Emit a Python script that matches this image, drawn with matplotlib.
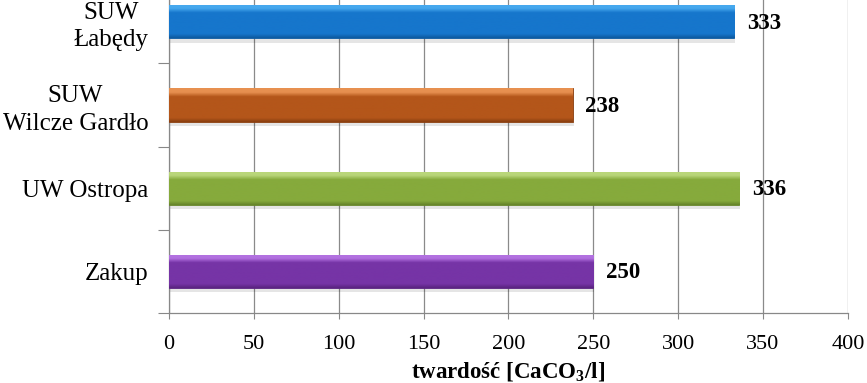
import numpy as np
import matplotlib
matplotlib.use('Agg')
import matplotlib.pyplot as plt
from matplotlib.colors import LinearSegmentedColormap

plt.rcParams['font.family'] = ['Liberation Serif', 'DejaVu Serif']
plt.rcParams['mathtext.fontset'] = 'custom'
plt.rcParams['mathtext.bf'] = 'Liberation Serif:bold'
plt.rcParams['mathtext.rm'] = 'Liberation Serif'
plt.rcParams['mathtext.default'] = 'bf'

categories = ['Zakup', 'UW Ostropa', 'SUW\nWilcze Gardło', 'SUW\nŁabędy']
values = [250, 336, 238, 333]
colors = ['#7634a6', '#86aa3c', '#b4561a', '#1676cc']
light = ['#b271e0', '#b9d67a', '#e79050', '#46a8ee']
dark = ['#5a2380', '#66852a', '#8a3f10', '#0d5aa0']

fig = plt.figure(figsize=(8.67, 3.83), dpi=100)
ax = fig.add_axes([0.1949, 0.1828, 0.7831, 0.869])

y = np.arange(len(categories))
h = 0.4
bars = ax.barh(y, values, height=h, color=colors, zorder=3)

# soft shadow under each bar
for yi, v in zip(y, values):
    ax.barh(yi - 0.05, v, height=h, left=0.5, color='#000000', alpha=0.10,
            zorder=2)

# vertical gradient for a shiny look
for b, c, lt, dk in zip(bars, colors, light, dark):
    cmap = LinearSegmentedColormap.from_list('g', [(0, dk), (0.12, c), (0.75, c),
                                                  (0.88, lt), (1, lt)])
    x0, yb = b.get_x(), b.get_y()
    w, hh = b.get_width(), b.get_height()
    grad = np.linspace(0, 1, 100).reshape(-1, 1)
    im = ax.imshow(grad, cmap=cmap, aspect='auto', origin='lower',
                   extent=[x0, x0 + w, yb, yb + hh], zorder=4)
    im.set_clip_path(b)
    b.set_edgecolor(dk)
    b.set_linewidth(0.6)

for yi, v in zip(y, values):
    ax.annotate(str(v), (v, yi), xytext=(9, -1), textcoords='offset points',
                va='center', ha='left', fontsize=16.5, fontweight='bold', zorder=5)

ax.set_xlim(0, 400)
ax.set_ylim(-0.5, 3.5)
ax.set_xticks(np.arange(0, 401, 50))
ax.set_yticks(y)
ax.set_yticklabels(categories, fontsize=18, linespacing=1.3, multialignment='center')
ax.set_yticks(np.arange(-0.5, 3.6, 1), minor=True)
ax.tick_params(axis='y', which='major', length=0, pad=15)
ax.tick_params(axis='y', which='minor', length=8, color='#888888', width=0.8)
ax.tick_params(axis='x', length=4, color='#888888', width=0.8, labelsize=16, pad=12)
ax.xaxis.grid(True, color='#8a8a8a', linewidth=0.9, zorder=0)
ax.set_axisbelow(True)
for s in ['top', 'right']:
    ax.spines[s].set_visible(False)
for s in ['left', 'bottom']:
    ax.spines[s].set_color('#888888')
    ax.spines[s].set_linewidth(0.9)

ax.set_xlabel(r'twardość [CaCO$_3$/l]', fontsize=16.5, fontweight='bold', labelpad=4)

fig.savefig('out.png', dpi=100)
